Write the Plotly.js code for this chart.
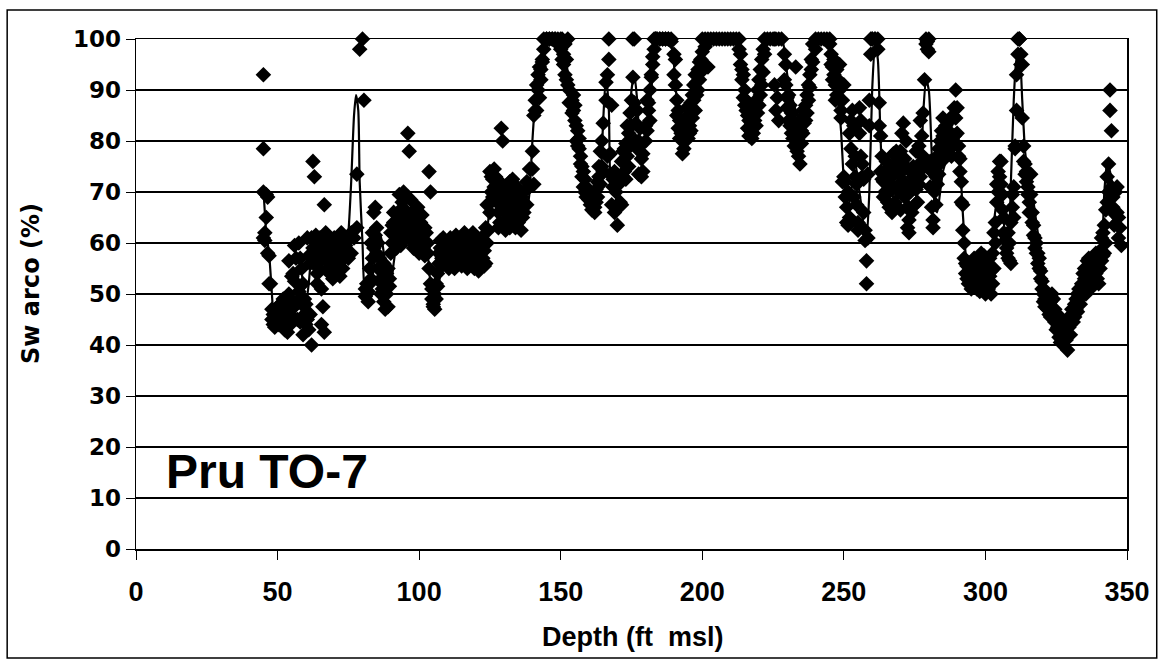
<!DOCTYPE html>
<html>
<head>
<meta charset="utf-8">
<script src="https://cdn.plot.ly/plotly-3.0.1.min.js"></script>
<style>html,body{margin:0;padding:0;background:#fff;}#chart{width:1161px;height:662px;}</style>
</head>
<body>
<div id="chart"></div>
<script>
// Core sample readings: depth (ft msl) and Sw arco (%) readings at that depth
const coreDepth = [
  45, 45.5, 46, 46.5, 47, 47.5, 48, 48.5, 49, 49.5,
  50, 50.5, 51, 51.5, 52, 52.5, 53, 53.5, 54, 54.5,
  55, 55.5, 56, 56.5, 57, 57.5, 58, 58.5, 59, 59.5,
  60, 60.5, 61, 61.5, 62, 62.5, 63, 63.5, 64, 64.5,
  65, 65.5, 66, 66.5, 67, 67.5, 68, 68.5, 69, 69.5,
  70, 71, 71.5, 72, 72.5, 73, 74, 75, 76, 77,
  78, 79, 80, 80.5, 81, 81.5, 82, 82.5, 83, 83.5,
  84, 84.5, 85, 85.5, 86, 86.5, 87, 87.5, 88, 88.5,
  89, 89.5, 90, 90.5, 91, 91.5, 92, 92.5, 93, 93.5,
  94, 94.5, 95, 95.5, 96, 96.5, 97, 97.5, 98, 98.5,
  99, 99.5, 100, 100.5, 101, 101.5, 102, 102.5, 103, 103.5,
  104, 104.5, 105, 105.5, 106, 106.5, 107, 107.5, 108, 108.5,
  109, 110, 110.5, 111, 111.5, 112, 112.5, 113, 113.5, 114,
  115, 115.5, 116, 116.5, 117, 118, 118.5, 119, 119.5, 120,
  120.5, 121, 122, 122.5, 123, 123.5, 124, 124.5, 125, 125.5,
  126, 126.5, 127, 127.5, 128, 128.5, 129, 129.5, 130, 130.5,
  131, 131.5, 132, 132.5, 133, 133.5, 134, 134.5, 135, 136,
  136.5, 137, 138, 139, 140, 140.5, 141, 141.5, 142, 142.5,
  143, 143.5, 144, 145, 146, 147, 148, 149, 150, 150.5,
  151, 151.5, 152, 152.5, 153, 154, 154.5, 155, 155.5, 156,
  156.5, 157, 157.5, 158, 158.5, 159, 160, 160.5, 161, 162,
  162.5, 163, 163.5, 164, 164.5, 165, 166, 166.5, 167, 167.5,
  168, 168.5, 169, 169.5, 170, 170.5, 171, 171.5, 172, 172.5,
  173, 173.5, 174, 174.5, 175, 175.5, 176, 176.5, 177, 177.5,
  178, 178.5, 179, 180, 180.5, 181, 181.5, 182, 182.5, 183,
  183.5, 184, 185, 186, 187, 188, 189, 190, 190.5, 191,
  191.5, 192, 192.5, 193, 193.5, 194, 194.5, 195, 195.5, 196,
  196.5, 197, 197.5, 198, 198.5, 199, 199.5, 200, 201, 202,
  203, 204, 205, 206, 207, 208, 209, 210, 211, 212,
  213, 213.5, 214, 214.5, 215, 215.5, 216, 216.5, 217, 217.5,
  218, 218.5, 219, 219.5, 220, 220.5, 221, 221.5, 222, 223,
  224, 225, 225.5, 226, 226.5, 227, 228, 229, 229.5, 230,
  230.5, 231, 231.5, 232, 232.5, 233, 233.5, 234, 234.5, 235,
  235.5, 236, 236.5, 237, 237.5, 238, 238.5, 239, 240, 241,
  242, 243, 244, 245, 245.5, 246, 246.5, 247, 247.5, 248,
  248.5, 249, 249.5, 250, 250.5, 251, 251.5, 252, 252.5, 253,
  253.5, 254, 254.5, 255, 255.5, 256, 256.5, 257, 257.5, 258,
  258.5, 259, 259.5, 260, 261, 262, 262.5, 263, 263.5, 264,
  264.5, 265, 265.5, 266, 266.5, 267, 267.5, 268, 268.5, 269,
  269.5, 270, 270.5, 271, 271.5, 272, 272.5, 273, 273.5, 274,
  274.5, 275, 275.5, 276, 276.5, 277, 277.5, 278, 278.5, 279,
  279.5, 280, 280.5, 281, 281.5, 282, 282.5, 283, 283.5, 284,
  284.5, 285, 285.5, 286, 286.5, 287, 287.5, 288, 288.5, 289,
  289.5, 290, 290.5, 291, 291.5, 292, 292.5, 293, 293.5, 294,
  294.5, 295, 295.5, 296, 296.5, 297, 297.5, 298, 298.5, 299,
  299.5, 300, 300.5, 301, 301.5, 302, 302.5, 303, 303.5, 304,
  304.5, 305, 305.5, 306, 306.5, 307, 307.5, 308, 308.5, 309,
  309.5, 310, 310.5, 311, 311.5, 312, 312.5, 313, 313.5, 314,
  314.5, 315, 315.5, 316, 316.5, 317, 317.5, 318, 318.5, 319,
  319.5, 320, 320.5, 321, 321.5, 322, 322.5, 323, 323.5, 324,
  324.5, 325, 325.5, 326, 326.5, 327, 327.5, 328, 328.5, 329,
  329.5, 330, 330.5, 331, 331.5, 332, 332.5, 333, 333.5, 334,
  334.5, 335, 335.5, 336, 336.5, 337, 337.5, 338, 338.5, 339,
  339.5, 340, 340.5, 341, 341.5, 342, 342.5, 343, 343.5, 344,
  344.5, 345, 345.5, 346, 346.5, 347, 347.5, 348
];
const coreSw = [
  [93,78.5,70,61],[62,60.5],[69.5,65],[69,58],[57.5,52],[52],[45,47],[44,46],[45,43.5],[44.5,46],
  [45,47.5],[44,46],[48,45],[46.5,44],[47,49],[43,45.5],[48,44.5],[42.5,46],[56.5,50],[49,44],
  [53.5,47],[54,45.5],[59.5,52.5],[57,48],[48.5,45],[60,50.5],[57,44.5],[55,48],[52,42],[46,49],
  [44,48],[61,45],[57.5,43],[56,46],[61,40],[76,59],[73,57],[58,61.5],[54,52],[60,55],
  [56.5,61],[51,44],[47.5,59],[42.5,67.5],[57,62],[54.5,58],[56,60.5],[55,59],[54,57.5],[59,53],
  [55,61],[57,54],[59,56],[58,53.5],[56.5,62],[55,60],[59.5,61],[60.5,57],[62,58],[61],
  [73.5,63],[98],[100],[88],[51,49.5],[50,52],[48.5,50.5],[52,55],[60,53],[62,57],
  [66,59],[67,61.5],[63,58],[60,55],[57,52.5],[53,50],[54.5,51],[56,48.5],[52,47],[50,54],
  [55,47.5],[51.5,53],[58,62],[60,63.5],[66,64],[62.5,60],[64,59],[61,66],[65,69.5],[62,59.5],
  [68,63],[70,64.5],[61,66.5],[69,63],[81.5,64],[78,65.5],[60.5,68.5],[63,66],[61.5,59],[64,62],
  [66,65],[60,67],[63.5,58],[61,64],[65.5,62],[59,60.5],[57.5,63],[62,60],[60,58],[74,55],
  [70,52],[49,51],[47.5,48],[47,50],[49,52],[51.5,54],[56,58],[59,60.5],[55.5,57],[58,61],
  [59.5,56],[57,60],[55,58.5],[59,61],[57,56],[60,58],[55,57],[58.5,61.5],[56,59],[59,60],
  [57,55.5],[58,61],[60,62],[56.5,59],[58,55],[61,57.5],[59,56],[62,58],[55,57],[59,56.5],
  [57.5,60],[58.5,54.5],[56,61],[60,57],[58.5,55.5],[56,63],[67.5,60],[67.5,62.5],[74,66],[73,70],
  [72.5,69],[74.5,71],[73,70],[71,68],[66,63],[64,72],[82.5,68],[80,70],[66.5,64],[62.5,69],
  [71,67],[65,70.5],[72,63],[68,66],[64,72.5],[70,65],[63,68],[66.5,71],[64,67],[62.5,69],
  [68,65],[70,66],[67.5,72],[71,74.5],[78,74.5],[85,71.5],[86,88],[91,86],[90,93],[88.5,94.5],
  [94,92],[96,95.5],[98,100],[100,100],[100,100],[100,100],[100,100],[100,99],[100,98],[96,100],
  [97,95],[93,99],[92,96],[91,100],[90,87.5],[88,85.5],[86,89],[84,87],[83,80],[82,79],
  [80.5,78.5],[77,75.5],[75,73],[74,71],[72.5,70],[71,69],[68.5,70],[67.5,69.5],[66.5,68],[67,66],
  [68,70.5],[72,69],[75,73],[78,71.5],[80,75],[83.5,74],[91.5,88],[93,77],[100,96],[77.5,73.5],
  [87,67.5],[71,72.5],[74,66],[70,72],[63.5,67.5],[67.5,71.5],[72.5,68],[76,67.5],[73,78],[78.5,74],
  [72.5,79.5],[77,83],[81.5,75],[85.5,79],[83,88],[100,92.5],[100,87.5],[83.5,80],[78.5,86],[73.5,80],
  [79,82.5],[73,76.5],[77.5,74],[80,83],[82,88],[87.5,86],[90,84],[92.5,93],[95,96.5],[98,100],
  [100,100],[100,100],[100,100],[100,100],[100,100],[100,100],[99.5,100],[97,93],[96,91],[88,85],
  [86,82.5],[84,80.5],[81.5,82],[83,77.5],[78.5,84],[83.5,81],[82,86.5],[80.5,85],[81.5,83],[87.5,82],
  [84.5,89],[91,88],[93,86],[89,91.5],[94,90],[92,95.5],[96,93.5],[100,97.5],[100,98.5],[100,94.5],
  [100],[100],[100],[100],[100],[100],[100],[100],[100],[100],
  [100,98],[97,95],[94,92],[93,88.5],[90,87],[86,88],[85,82.5],[84,81],[82,86],[80.5,83.5],
  [85,81.5],[87,84],[88,83],[90,85.5],[92,87],[94,89],[96,91],[98,93.5],[100,97],[100],
  [100],[100],[100,91],[100,86],[88.5],[100,84],[100],[97,92],[91,95],[88.5,86.5],
  [84,89],[83,87],[81.5,85.5],[84,80.5],[83,79],[81,94.5],[78,82],[77,80],[75.5,84],[82,79.5],
  [86,81.5],[83.5,85],[87,84],[85.5,89],[91,88],[90.5,93],[94,96],[95.5,99],[100,98],[100],
  [100],[100],[100],[100,99],[97,95],[94.5,92],[93,96],[91,88],[89,94],[92,88.5],
  [95,90],[86,84.5],[88,72],[91,73],[69,72],[67,64],[63.5,70],[81.5,65],[84,78.5],[86,75.5],
  [83,69],[77,73],[71.5,67.5],[62.5,64],[86.5,81.5],[84,77],[75.5,73],[72.5,66],[62.5,60.5],[56.5,52],
  [61,73.5],[88,83],[97,100],[100,100],[100,100],[100,98],[87.5,83],[81,74],[72.5,77],[72,69],
  [70,74],[76,71.5],[73.5,68],[67,70],[70.5,75],[73,66],[71,77.5],[68,74.5],[74,78],[76,71],
  [73.5,70],[78,66.5],[81.5,72],[83.5,75.5],[76.5,69],[80,71.5],[63,67],[62,64.5],[74,70],[71,66],
  [73,75],[67.5,72],[78,70.5],[74.5,68],[79,71.5],[84,73],[81,76],[85.5,77],[92,75],[100,99],
  [98,99.5],[100,97.5],[76,71],[74,67],[63,64.5],[70,76.5],[73,67.5],[75,71.5],[78.5,73.5],[80,76],
  [78,82],[81,84.5],[79.5,76.5],[83,81],[80,78],[82,79.5],[84,80],[81,77],[85,79],[86.5,81],
  [90,84.5],[86.5,81.5],[79,77],[76.5,74],[72,68],[67.5,62.5],[60,57],[56,54],[53,55.5],[52,54],
  [53.5,56],[51,55],[54.5,52.5],[57,53],[52.5,55.5],[51,54],[53.5,57],[56,50.5],[52,58],[55,53],
  [51,57.5],[54,50],[52,55.5],[56,51],[53.5,57],[50,54.5],[52,58],[62,55],[64,60],[68,71.5],
  [70,74],[73,76],[76,71.5],[69.5,66.5],[65,62],[61.5,60.5],[59,58],[57,62],[56.5,60],[64,56],
  [67,69.5],[65,71],[78.5,79],[93,86],[100,97],[100,100],[97,95],[95,84.5],[79,76],[75.5,73.5],
  [74,72],[71,69.5],[68,66],[73.5,69.5],[66,64],[63.5,61.5],[61,59],[60,58],[58,56],[57,55],
  [54.5,53],[52.5,51],[50,48.5],[49,47.5],[48,50.5],[47,49],[46,48],[48.5,45.5],[47,50],[49,46],
  [44.5,47],[45,43],[43.5,46],[41.5,44.5],[43,40.5],[41,44],[42.5,40],[43,44],[42,41],[39,42],
  [43.5,45.5],[44,42],[45,47],[46,44.5],[48,45.5],[47,49],[46.5,50],[49,51],[50.5,48],[52,50],
  [51,54],[53,55],[52,50],[54,56.5],[55,57],[53.5,51],[56,52.5],[55,53],[52,56],[54,58],
  [53,56],[57,52],[55,58.5],[56.5,61],[62,57.5],[63.5,58],[60,66.5],[73,68],[75.5,70],[90,86],
  [82,71],[69,67],[66,63.5],[70,65.5],[71,66],[65,61],[63],[59.5]
];

// Smoothed trend line
const trendDepth = [
  45, 45.5, 46, 47, 48, 48.5, 49, 50, 51, 52,
  53, 54, 55, 55.5, 56, 57, 58, 59, 60, 61,
  62, 63, 64, 65, 66, 67, 68, 69, 70, 71,
  72, 73, 74, 75, 76, 77, 77.7, 78.5, 79, 80,
  81, 82, 83, 84, 85, 86, 87, 88, 89, 90,
  91, 92, 93, 94, 95, 96, 97, 98, 99, 100,
  101, 102, 103, 104, 105, 106, 107, 108, 109, 110,
  111, 112, 113, 114, 115, 116, 117, 118, 119, 120,
  121, 122, 123, 124, 125, 126, 127, 128, 129, 130,
  131, 132, 133, 134, 135, 136, 137, 138, 139, 140,
  141, 142, 143, 144, 145, 146, 147, 148, 149, 150,
  151, 152, 153, 154, 155, 156, 157, 158, 159, 160,
  161, 162, 163, 164, 165, 166, 167, 168, 169, 170,
  171, 172, 173, 174, 175, 176, 177, 178, 179, 180,
  181, 182, 183, 184, 185, 186, 187, 188, 189, 190,
  191, 192, 193, 194, 195, 196, 197, 198, 199, 200,
  201, 202, 204, 206, 208, 210, 212, 213, 214, 215,
  216, 217, 218, 219, 220, 221, 222, 223, 225, 227,
  228, 229, 230, 231, 232, 233, 234, 235, 236, 237,
  238, 239, 240, 241, 242, 243, 244, 245, 246, 247,
  248, 249, 250, 251, 252, 253, 254, 255, 256, 257,
  258, 259, 260, 261, 262, 263, 264, 265, 266, 267,
  268, 269, 270, 271, 272, 273, 274, 275, 276, 277,
  278, 279, 280, 281, 282, 283, 284, 285, 286, 287,
  288, 289, 290, 291, 292, 293, 294, 295, 296, 297,
  298, 299, 300, 301, 302, 303, 304, 305, 306, 307,
  308, 309, 310, 311, 312, 313, 314, 315, 316, 317,
  318, 319, 320, 321, 322, 323, 324, 325, 326, 327,
  328, 329, 330, 331, 332, 333, 334, 335, 336, 337,
  338, 339, 340, 341, 342, 343, 344, 345
];
const trendSw = [
  70.5, 66, 62, 58, 50, 46, 44.5, 44, 44.5, 45,
  46, 48, 50, 49, 46, 52, 56, 52, 48, 52,
  58, 60, 57, 56, 58, 60, 59, 57, 56, 57,
  58, 57, 58, 62, 72, 85, 89, 86, 72, 60,
  50, 50, 52, 55, 60, 62, 60, 56, 53, 52,
  56, 60, 62, 63, 62, 62, 64, 63, 62, 63,
  62, 61, 58, 52, 49, 49, 52, 56, 58, 58,
  57, 58, 57, 58, 58, 57, 58, 59, 58, 57,
  56, 56, 58, 62, 68, 72, 73, 71, 68, 66,
  68, 70, 68, 66, 65, 66, 68, 66, 70, 80,
  88, 92, 96, 99, 100, 100, 100, 100, 100, 99,
  97, 95, 92, 88, 85, 82, 78, 74, 71, 69,
  68, 68, 69, 72, 84, 93, 86, 70, 70, 70,
  72, 73, 74, 80, 90, 93, 88, 80, 79, 80,
  84, 90, 96, 100, 100, 100, 100, 100, 99, 95,
  88, 84, 82, 82, 82, 83, 86, 90, 93, 96,
  99, 100, 100, 100, 100, 100, 100, 99, 94, 88,
  84, 82, 82, 85, 90, 95, 98, 100, 100, 100,
  100, 98, 93, 90, 88, 86, 84, 82, 83, 86,
  90, 95, 99, 100, 100, 100, 100, 99, 96, 92,
  88, 82, 72, 66, 68, 72, 76, 72, 68, 63,
  61, 70, 90, 99, 96, 80, 72, 72, 72, 70,
  68, 71, 73, 74, 72, 68, 66, 68, 70, 72,
  85, 92, 90, 78, 68, 66, 70, 74, 76, 78,
  80, 82, 82, 76, 66, 58, 55, 53, 52, 53,
  53, 52, 52, 53, 56, 64, 68, 70, 68, 62,
  62, 72, 88, 96, 97, 88, 78, 74, 72, 68,
  64, 60, 56, 52, 49, 47, 46, 45, 44, 43,
  42, 42, 43, 45, 47, 49, 51, 52, 53, 54,
  55, 55, 56, 58, 70, 76, 74, 71
];

const xTicks = [0, 50, 100, 150, 200, 250, 300, 350];
const yTicks = [0, 10, 20, 30, 40, 50, 60, 70, 80, 90, 100];
const wellLabel = "Pru TO-7";
const xTitle = "Depth (ft  msl)";
const yTitle = "Sw arco (%)";

// flatten readings for plotting
const ptX = [], ptY = [];
coreDepth.forEach((d, i) => { (coreSw[i] || []).forEach(v => { ptX.push(d); ptY.push(v); }); });

const FONT = '"Liberation Sans", Arial, Helvetica, sans-serif';
const HEAVY = '"DejaVu Sans", "Liberation Sans", Arial, sans-serif';

const traces = [
  {
    x: trendDepth, y: trendSw, type: 'scatter', mode: 'lines',
    line: {color: '#000', width: 2.2, shape: 'spline', smoothing: 0.6},
    cliponaxis: false, hoverinfo: 'skip', showlegend: false
  },
  {
    x: ptX, y: ptY, type: 'scatter', mode: 'markers',
    marker: {symbol: 'diamond', size: 12, color: '#000', line: {width: 0}},
    cliponaxis: false, showlegend: false
  }
];

const layout = {
  width: 1161, height: 662,
  margin: {l: 136, r: 34, t: 39, b: 113},
  paper_bgcolor: '#fff', plot_bgcolor: '#fff',
  font: {family: FONT, color: '#000'},
  showlegend: false,
  xaxis: {
    range: [0, 350], tickvals: xTicks, ticktext: xTicks.map(String),
    showgrid: false, zeroline: false,
    showline: true, linecolor: '#000', linewidth: 1.5, mirror: true,
    ticks: 'outside', ticklen: 9, tickcolor: '#000', tickwidth: 1,
    ticklabelstandoff: 9,
    tickfont: {family: FONT, size: 27, weight: 'bold', color: '#000'}
  },
  yaxis: {
    range: [0, 100], tickvals: yTicks, ticktext: yTicks.map(String),
    showgrid: true, gridcolor: '#000', gridwidth: 1.2, zeroline: false,
    showline: true, linecolor: '#000', linewidth: 1.5, mirror: true,
    ticks: 'outside', ticklen: 9, tickcolor: '#000', tickwidth: 1,
    tickfont: {family: HEAVY, size: 23, weight: 'bold', color: '#000'}
  },
  annotations: [
    {
      x: 10, y: 15.1, xref: 'x', yref: 'y', xanchor: 'left', yanchor: 'middle',
      text: wellLabel, showarrow: false,
      font: {family: FONT, size: 48, weight: 'bold', color: '#000'}
    },
    {
      x: 0.5015, y: -0.1725, xref: 'paper', yref: 'paper', xanchor: 'center', yanchor: 'middle',
      text: xTitle, showarrow: false,
      font: {family: FONT, size: 27, weight: 'bold', color: '#000'}
    },
    {
      x: -0.106, y: 0.5216, xref: 'paper', yref: 'paper', xanchor: 'center', yanchor: 'middle',
      text: yTitle, showarrow: false, textangle: -90,
      font: {family: HEAVY, size: 24, weight: 'bold', color: '#000'}
    }
  ],
  shapes: [{
    type: 'rect', xref: 'paper', yref: 'paper',
    x0: -0.130, x1: 1.030, y0: -0.2137, y1: 1.0569,
    line: {color: '#000', width: 1.5}, fillcolor: 'rgba(0,0,0,0)', layer: 'below'
  }]
};

Plotly.newPlot('chart', traces, layout, {displayModeBar: false, staticPlot: true});
</script>
</body>
</html>
